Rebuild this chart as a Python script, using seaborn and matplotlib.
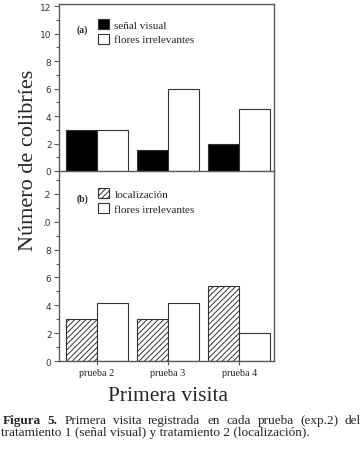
import pandas as pd
import matplotlib
matplotlib.use("Agg")
import matplotlib.pyplot as plt
import seaborn as sns
from matplotlib.patches import Patch, Rectangle
from matplotlib.ticker import MultipleLocator

sns.set_style("white")
plt.rcParams['font.family'] = ['Liberation Serif', 'DejaVu Serif']
plt.rcParams['hatch.color'] = '#333333'
plt.rcParams['hatch.linewidth'] = 0.7

pruebas = ['prueba 2', 'prueba 3', 'prueba 4']
senal_visual = [3, 1.5, 2]
flores_a = [3, 6, 4.5]
localizacion = [3, 3, 5.4]
flores_b = [4.15, 4.15, 2]

caption_1 = 'Figura 5. Primera visita registrada en cada prueba (exp.2) del'
caption_2 = 'tratamiento 1 (señal visual) y tratamiento 2 (localización).'

EDGE = '#333333'
SPINE = '#5a5a5a'


def long_df(first_name, first_vals, second_vals):
    rows = []
    for p, v in zip(pruebas, first_vals):
        rows.append({'prueba': p, 'serie': first_name, 'n': v})
    for p, v in zip(pruebas, second_vals):
        rows.append({'prueba': p, 'serie': 'flores irrelevantes', 'n': v})
    return pd.DataFrame(rows)


def style_axis(ax, ymax):
    ax.set_xlim(-0.535, 2.49)
    ax.set_ylim(0, ymax)
    ax.yaxis.set_major_locator(MultipleLocator(2))
    ax.yaxis.set_minor_locator(MultipleLocator(1))
    ax.tick_params(axis='y', which='major', direction='out', length=3.6, width=0.8,
                   color=SPINE, labelsize=6.5, labelcolor='#333333', left=True, pad=1.8)
    ax.tick_params(axis='y', which='minor', direction='out', length=2.2, width=0.8,
                   color=SPINE, left=True)
    for lab in ax.get_yticklabels():
        lab.set_family('DejaVu Sans')
    for s in ax.spines.values():
        s.set_color(SPINE)
        s.set_linewidth(1.0)
    ax.set_xlabel('')
    ax.set_ylabel('')
    ax.patch.set_alpha(0)


fig = plt.figure(figsize=(3.62, 4.52), dpi=100)
W, H = 362, 452

# panel (a)
ax1 = fig.add_axes([59 / W, 1 - 172 / H, 215 / W, 167 / H])
df_a = long_df('señal visual', senal_visual, flores_a)
sns.barplot(data=df_a, x='prueba', y='n', hue='serie',
            palette=['black', 'white'], width=0.87, gap=0,
            edgecolor=EDGE, linewidth=0.8, legend=False, ax=ax1)
style_axis(ax1, 12.15)
ax1.set_xticks([])
ax1.text(0.107, 0.85, '(a)', transform=ax1.transAxes, fontsize=7,
         fontweight='bold', ha='center', va='center')
h_a = [Patch(facecolor='black', edgecolor=EDGE, linewidth=0.8, label='señal visual'),
       Patch(facecolor='white', edgecolor=EDGE, linewidth=0.8, label='flores irrelevantes')]
ax1.legend(handles=h_a, loc='upper left', bbox_to_anchor=(0.18, 0.91),
           frameon=False, fontsize=8, handlelength=1.0, handleheight=1.0,
           handletextpad=0.5, labelspacing=0.35, borderpad=0, borderaxespad=0)

# panel (b)
ax2 = fig.add_axes([59 / W, 1 - 362 / H, 215 / W, 190 / H])
df_b = long_df('localización', localizacion, flores_b)
sns.barplot(data=df_b, x='prueba', y='n', hue='serie',
            palette=['white', 'white'], width=0.87, gap=0,
            edgecolor=EDGE, linewidth=0.8, legend=False, ax=ax2)
for bar in ax2.containers[0]:
    bar.set_hatch('//////')
style_axis(ax2, 13.65)
ax2.spines['top'].set_visible(False)
ax2.tick_params(axis='x', direction='out', length=3, width=0.8, color=SPINE,
                bottom=True, labelsize=7.3, pad=2)
ax2.text(0.107, 0.858, '(b)', transform=ax2.transAxes, fontsize=7,
         fontweight='bold', ha='center', va='center')
h_b = [Patch(facecolor='white', edgecolor=EDGE, linewidth=0.8, hatch='//////', label='localización'),
       Patch(facecolor='white', edgecolor=EDGE, linewidth=0.8, label='flores irrelevantes')]
ax2.legend(handles=h_b, loc='upper left', bbox_to_anchor=(0.18, 0.91),
           frameon=False, fontsize=8, handlelength=1.0, handleheight=1.0,
           handletextpad=0.5, labelspacing=0.35, borderpad=0, borderaxespad=0)

# y label sits on a white block that hides part of the tick labels
fig.patches.append(Rectangle((14 / W, 1 - 252 / H), 30.3 / W, 182 / H,
                             transform=fig.transFigure, facecolor='white',
                             edgecolor='none', zorder=5))
fig.text(29 / W, 1 - 160 / H, 'Número de colibríes', rotation=90, fontsize=16,
         ha='center', va='center', zorder=10)
fig.text(168 / W, 1 - 397 / H, 'Primera visita', fontsize=15.5,
         ha='center', va='center')

# caption, first line justified
renderer = fig.canvas.get_renderer()
words = caption_1.split(' ')
texts = []
for i, w in enumerate(words):
    t = fig.text(0, 1 - 421 / H, w, fontsize=9.5, ha='left', va='center',
                 fontweight='bold' if i < 2 else 'normal')
    texts.append(t)
widths = [t.get_window_extent(renderer).width for t in texts]
x0, x1 = 3, 361
gap = (x1 - x0 - sum(widths)) / (len(words) - 1)
x = x0
for t, w in zip(texts, widths):
    t.set_x(x / W)
    x += w + gap
fig.text(1 / W, 1 - 433 / H, caption_2, fontsize=9.5, ha='left', va='center')

fig.savefig('out.png', dpi=100, facecolor='white')
